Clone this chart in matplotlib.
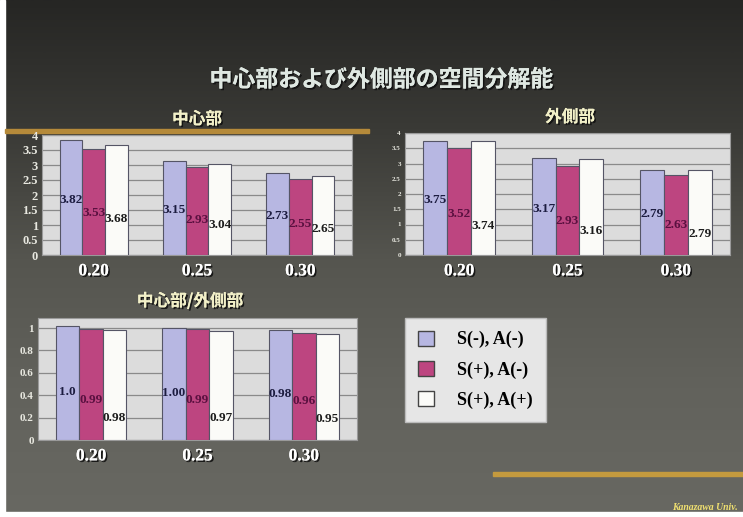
import matplotlib.pyplot as plt
import matplotlib.patheffects as pe
import numpy as np

# data
groups = ["0.20", "0.25", "0.30"]
series = ["S(-), A(-)", "S(+), A(-)", "S(+), A(+)"]
center = [[3.82, 3.15, 2.73], [3.53, 2.93, 2.55], [3.68, 3.04, 2.65]]
outer = [[3.75, 3.17, 2.79], [3.52, 2.93, 2.63], [3.74, 3.16, 2.79]]
ratio = [[1.02, 1.00, 0.98], [0.99, 0.99, 0.96], [0.98, 0.97, 0.95]]
ratio_labels = [["1.0", "1.00", "0.98"], ["0.99", "0.99", "0.96"], ["0.98", "0.97", "0.95"]]

colors = ["#b7b7e2", "#bd4580", "#fbfbf8"]
label_colors = ["#1c1c40", "#5a1040", "#1c1c1c"]
jp = ["Noto Sans CJK JP", "DejaVu Sans"]
serif = "Liberation Serif"
shadow = [pe.withSimplePatchShadow(offset=(1.2, -1.2), shadow_rgbFace="#111111", alpha=0.9), pe.Normal()]

fig = plt.figure(figsize=(7.43, 5.17), dpi=100)

# slide background gradient
bg = fig.add_axes([0, 0, 1, 1], zorder=-10)
grad = np.linspace(0, 1, 256).reshape(-1, 1)
bg.imshow(grad, aspect="auto", extent=[0, 1, 0, 1], origin="upper",
          cmap=plt.matplotlib.colors.LinearSegmentedColormap.from_list(
              "bg", ["#262624", "#3a3a36", "#55554f", "#62625c", "#686862"]))
bg.set_xlim(0, 1)
bg.set_ylim(0, 1)
bg.axis("off")
# scan margins and gold strips
bg.add_patch(plt.Rectangle((0, 0), 0.007, 1, color="white"))
bg.add_patch(plt.Rectangle((0, 0), 1, 0.009, color="white"))
bg.add_patch(plt.Rectangle((0.007, 1 - 133 / 517), 0.49, 0.008, color="#b58a3a"))
bg.add_patch(plt.Rectangle((493 / 743, 1 - 476 / 517), 0.34, 0.007, color="#c49a3e"))

fig.text(381 / 743, 1 - 80 / 517, "中心部および外側部の空間分解能", family=jp, fontsize=16.5,
         fontweight="bold", color="#dfe8e2", ha="center", va="center", path_effects=shadow)
fig.text(705 / 743, 1 - 508 / 517, "Kanazawa Univ.", family=serif, fontsize=7,
         fontstyle="italic", fontweight="bold", color="#f0e070", ha="center", va="center")


def panel(rect, data, title, title_xy, ylim, yticks, tick_fs, label_frac, labels=None):
    ax = fig.add_axes(rect)
    ax.set_facecolor("#dcdcdc")
    x = np.arange(len(groups))
    w = 0.22
    for i, vals in enumerate(data):
        xs = x + (i - 1) * w
        ax.bar(xs, vals, w, color=colors[i], edgecolor="#555566", linewidth=0.8, zorder=3)
        for j, v in enumerate(vals):
            txt = labels[i][j] if labels else f"{v:.2f}"
            ax.text(xs[j], v * label_frac[i], txt, family=serif, fontweight="bold",
                    fontsize=9.5, color=label_colors[i], ha="center", va="center", zorder=4)
    ax.set_xlim(-0.5, 2.5)
    ax.set_ylim(*ylim)
    ax.set_yticks(yticks)
    ax.set_yticklabels([f"{t:g}" for t in yticks])
    ax.yaxis.grid(True, color="#8a8a8a", linewidth=0.9, zorder=0)
    ax.set_xticks(x)
    ax.set_xticklabels(groups)
    for t in ax.get_xticklabels():
        t.set_family(serif)
        t.set_fontweight("bold")
        t.set_fontsize(12.5)
        t.set_color("white")
        t.set_path_effects(shadow)
    for t in ax.get_yticklabels():
        t.set_family(serif)
        t.set_fontweight("bold")
        t.set_fontsize(tick_fs)
        t.set_color("#e8e8e0")
    ax.tick_params(length=0, pad=3)
    ax.tick_params(axis="x", pad=6)
    for s in ax.spines.values():
        s.set_color("#9a9a9a")
    fig.text(title_xy[0] / 743, 1 - title_xy[1] / 517, title, family=jp, fontsize=12,
             fontweight="bold", color="#f2f0c8", ha="center", va="center", path_effects=shadow)
    return ax


panel([42 / 743, 1 - 255 / 517, 310 / 743, 120 / 517], center, "中心部", (197, 119),
      (0, 4), np.arange(0, 4.01, 0.5), 9, [0.48, 0.4, 0.33])
panel([405 / 743, 1 - 255 / 517, 325 / 743, 122 / 517], outer, "外側部", (570, 117),
      (0, 4), np.arange(0, 4.01, 0.5), 5, [0.48, 0.38, 0.25])
panel([38 / 743, 1 - 440 / 517, 319 / 743, 122 / 517], ratio, "中心部/外側部", (190, 301),
      (0, 1.09), np.arange(0, 1.01, 0.2), 8, [0.42, 0.36, 0.2], labels=ratio_labels)

handles = [plt.Rectangle((0, 0), 1, 1, facecolor=c, edgecolor="#444444") for c in colors]
leg = fig.legend(handles, series, loc="upper left", bbox_to_anchor=(405 / 743, 1 - 318 / 517),
                 prop={"family": serif, "weight": "bold", "size": 13}, frameon=True,
                 fancybox=False, borderpad=0.7, labelspacing=0.7, handlelength=0.9,
                 handleheight=0.9, handletextpad=1.3, borderaxespad=0)
leg.get_frame().set_facecolor("#e6e6e6")
leg.get_frame().set_edgecolor("#bbbbbb")
leg.get_frame().set_alpha(1)

fig.savefig("out.png", dpi=100)
